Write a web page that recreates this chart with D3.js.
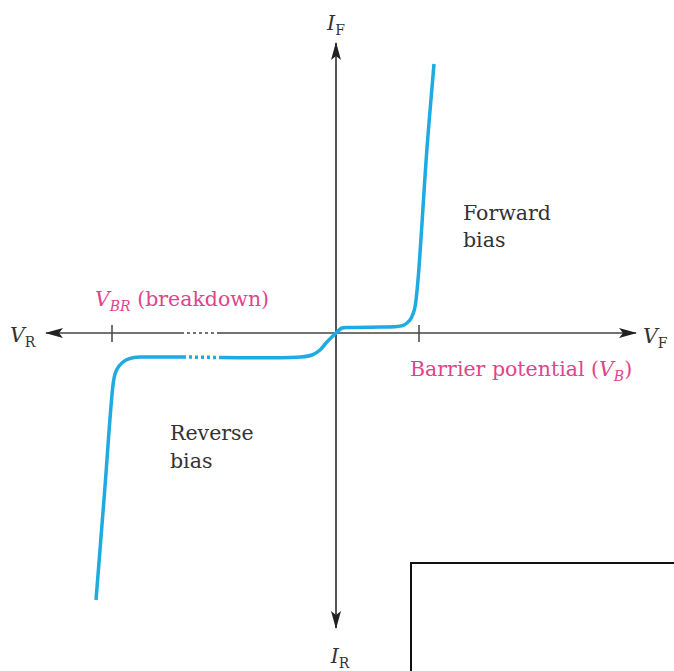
<!DOCTYPE html>
<html>
<head>
<meta charset="utf-8">
<script src="https://cdn.jsdelivr.net/npm/d3@7"></script>
<style>
  body { margin: 0; background: #fff; }
</style>
</head>
<body>
<svg id="chart"></svg>
<script>
// Diode I-V characteristic (schematic units)
const curveV = [-24.0, -23.15, -22.3, -22.1, -21.7, -21.0, -20.2, -19.3, -15.3, -11.6, -3.6, -2.4, -1.6, -1.0, 0, 0.6, 1.4, 4.4, 6.1, 6.8, 7.4, 7.7, 7.9, 8.2, 9.1, 9.8];
const curveI = [-26.7, -16.0, -5.2, -4.1, -3.3, -2.7, -2.45, -2.4, -2.4, -2.45, -2.4, -2.2, -1.7, -1.0, 0, 0.5, 0.55, 0.6, 0.65, 0.8, 1.3, 1.9, 2.6, 5.3, 18.5, 26.9];
const gapRange = [-15.3, -11.6];      // break in the reverse axis / curve
const vAxisExtent = [-29, 30];
const iAxisExtent = [-29.5, 29];
const tickV = [{v: -22.4, name: 'VBR'}, {v: 8.3, name: 'VB'}];

class DiodeChart {
  constructor(_config) {
    this.config = {
      parentElement: _config.parentElement,
      containerWidth: _config.containerWidth || 674,
      containerHeight: _config.containerHeight || 671,
    };
    this.initVis();
  }

  initVis() {
    let vis = this;
    vis.svg = d3.select(vis.config.parentElement)
        .attr('width', vis.config.containerWidth)
        .attr('height', vis.config.containerHeight);

    // 10 px per unit, origin at (336, 333)
    vis.xScale = d3.scaleLinear().domain(vAxisExtent).range([46, 636]);
    vis.yScale = d3.scaleLinear().domain(iAxisExtent).range([628, 43]);

    const defs = vis.svg.append('defs');
    defs.append('marker')
        .attr('id', 'arrow')
        .attr('viewBox', '0 0 18 12')
        .attr('refX', 17).attr('refY', 6)
        .attr('markerWidth', 18).attr('markerHeight', 12)
        .attr('markerUnits', 'userSpaceOnUse')
        .attr('orient', 'auto')
      .append('path')
        .attr('d', 'M0,1 L18,6 L0,11 L4,6 Z')
        .attr('fill', '#222');

    vis.renderVis();
  }

  renderVis() {
    let vis = this;
    const x = vis.xScale, y = vis.yScale;
    const x0 = x(0), y0 = y(0);
    const axisColor = '#444';

    // Horizontal axis with dotted break
    vis.svg.append('line')
        .attr('x1', x0).attr('x2', x(vAxisExtent[1]))
        .attr('y1', y0).attr('y2', y0)
        .attr('stroke', axisColor).attr('stroke-width', 1.5)
        .attr('marker-end', 'url(#arrow)');
    vis.svg.append('line')
        .attr('x1', x(gapRange[1])).attr('x2', x0)
        .attr('y1', y0).attr('y2', y0)
        .attr('stroke', axisColor).attr('stroke-width', 1.5);
    vis.svg.append('line')
        .attr('x1', x(gapRange[1])).attr('x2', x(gapRange[0]))
        .attr('y1', y0).attr('y2', y0)
        .attr('stroke', axisColor).attr('stroke-width', 1.5)
        .attr('stroke-dasharray', '3,3');
    vis.svg.append('line')
        .attr('x1', x(gapRange[0])).attr('x2', x(vAxisExtent[0]))
        .attr('y1', y0).attr('y2', y0)
        .attr('stroke', axisColor).attr('stroke-width', 1.5)
        .attr('marker-end', 'url(#arrow)');

    // Vertical axis
    vis.svg.append('line')
        .attr('x1', x0).attr('x2', x0)
        .attr('y1', y0).attr('y2', y(iAxisExtent[1]))
        .attr('stroke', '#555').attr('stroke-width', 2)
        .attr('marker-end', 'url(#arrow)');
    vis.svg.append('line')
        .attr('x1', x0).attr('x2', x0)
        .attr('y1', y0).attr('y2', y(iAxisExtent[0]))
        .attr('stroke', '#555').attr('stroke-width', 2)
        .attr('marker-end', 'url(#arrow)');

    // Ticks
    vis.svg.selectAll('.tick')
        .data(tickV)
      .join('line')
        .attr('class', 'tick')
        .attr('x1', d => x(d.v)).attr('x2', d => x(d.v))
        .attr('y1', y0 - 8).attr('y2', y0 + 9)
        .attr('stroke', axisColor).attr('stroke-width', 1.5);

    // Curve
    const pts = curveV.map((v, i) => ({v: v, i: curveI[i]}));
    const line = d3.line()
        .x(d => x(d.v))
        .y(d => y(d.i))
        .curve(d3.curveCatmullRom.alpha(0.5));
    const blue = '#1eaae2';
    const segs = [
      {data: pts.filter(d => d.v <= gapRange[0]), dash: null},
      {data: pts.filter(d => d.v >= gapRange[0] && d.v <= gapRange[1]), dash: '3,3'},
      {data: pts.filter(d => d.v >= gapRange[1]), dash: null}
    ];
    vis.svg.selectAll('.curve')
        .data(segs)
      .join('path')
        .attr('class', 'curve')
        .attr('d', d => line(d.data))
        .attr('fill', 'none')
        .attr('stroke', blue)
        .attr('stroke-width', 3.5)
        .attr('stroke-dasharray', d => d.dash);

    // Labels
    const ink = '#333', pink = '#e0448c';
    const fs = 20.5, sub = 14;
    const serif = 'DejaVu Serif';
    function label(px, py, parts, color, anchor) {
      const t = vis.svg.append('text')
          .attr('x', px).attr('y', py)
          .attr('fill', color)
          .style('font-family', serif)
          .attr('font-size', fs)
          .attr('text-anchor', anchor || 'start');
      parts.forEach(p => {
        const s = t.append('tspan').text(p.t);
        if (p.i) s.attr('font-style', 'italic');
        if (p.sub) s.attr('font-size', sub).attr('dy', 5);
        if (p.up) s.attr('dy', -5);
      });
      return t;
    }
    label(x0, 30, [{t: 'I', i: true}, {t: 'F', sub: true}], ink, 'middle');
    label(x0 + 4, 663, [{t: 'I', i: true}, {t: 'R', sub: true}], ink, 'middle');
    label(10, 342, [{t: 'V', i: true}, {t: 'R', sub: true}], ink);
    label(643, 343, [{t: 'V', i: true}, {t: 'F', sub: true}], ink);
    label(95, 306, [{t: 'V', i: true}, {t: 'BR', i: true, sub: true}, {t: ' (breakdown)', up: true}], pink);
    label(410, 376, [{t: 'Barrier potential ('}, {t: 'V', i: true}, {t: 'B', i: true, sub: true}, {t: ')', up: true}], pink);
    label(463, 220, [{t: 'Forward'}], ink);
    label(463, 247, [{t: 'bias'}], ink);
    label(170, 440, [{t: 'Reverse'}], ink);
    label(170, 468, [{t: 'bias'}], ink);

    // Blank overlay box in the lower right
    vis.svg.append('rect')
        .attr('x', 411).attr('y', 563)
        .attr('width', 300).attr('height', 200)
        .attr('fill', '#fff')
        .attr('stroke', '#111').attr('stroke-width', 2);
  }
}

new DiodeChart({parentElement: '#chart'});
</script>
</body>
</html>
